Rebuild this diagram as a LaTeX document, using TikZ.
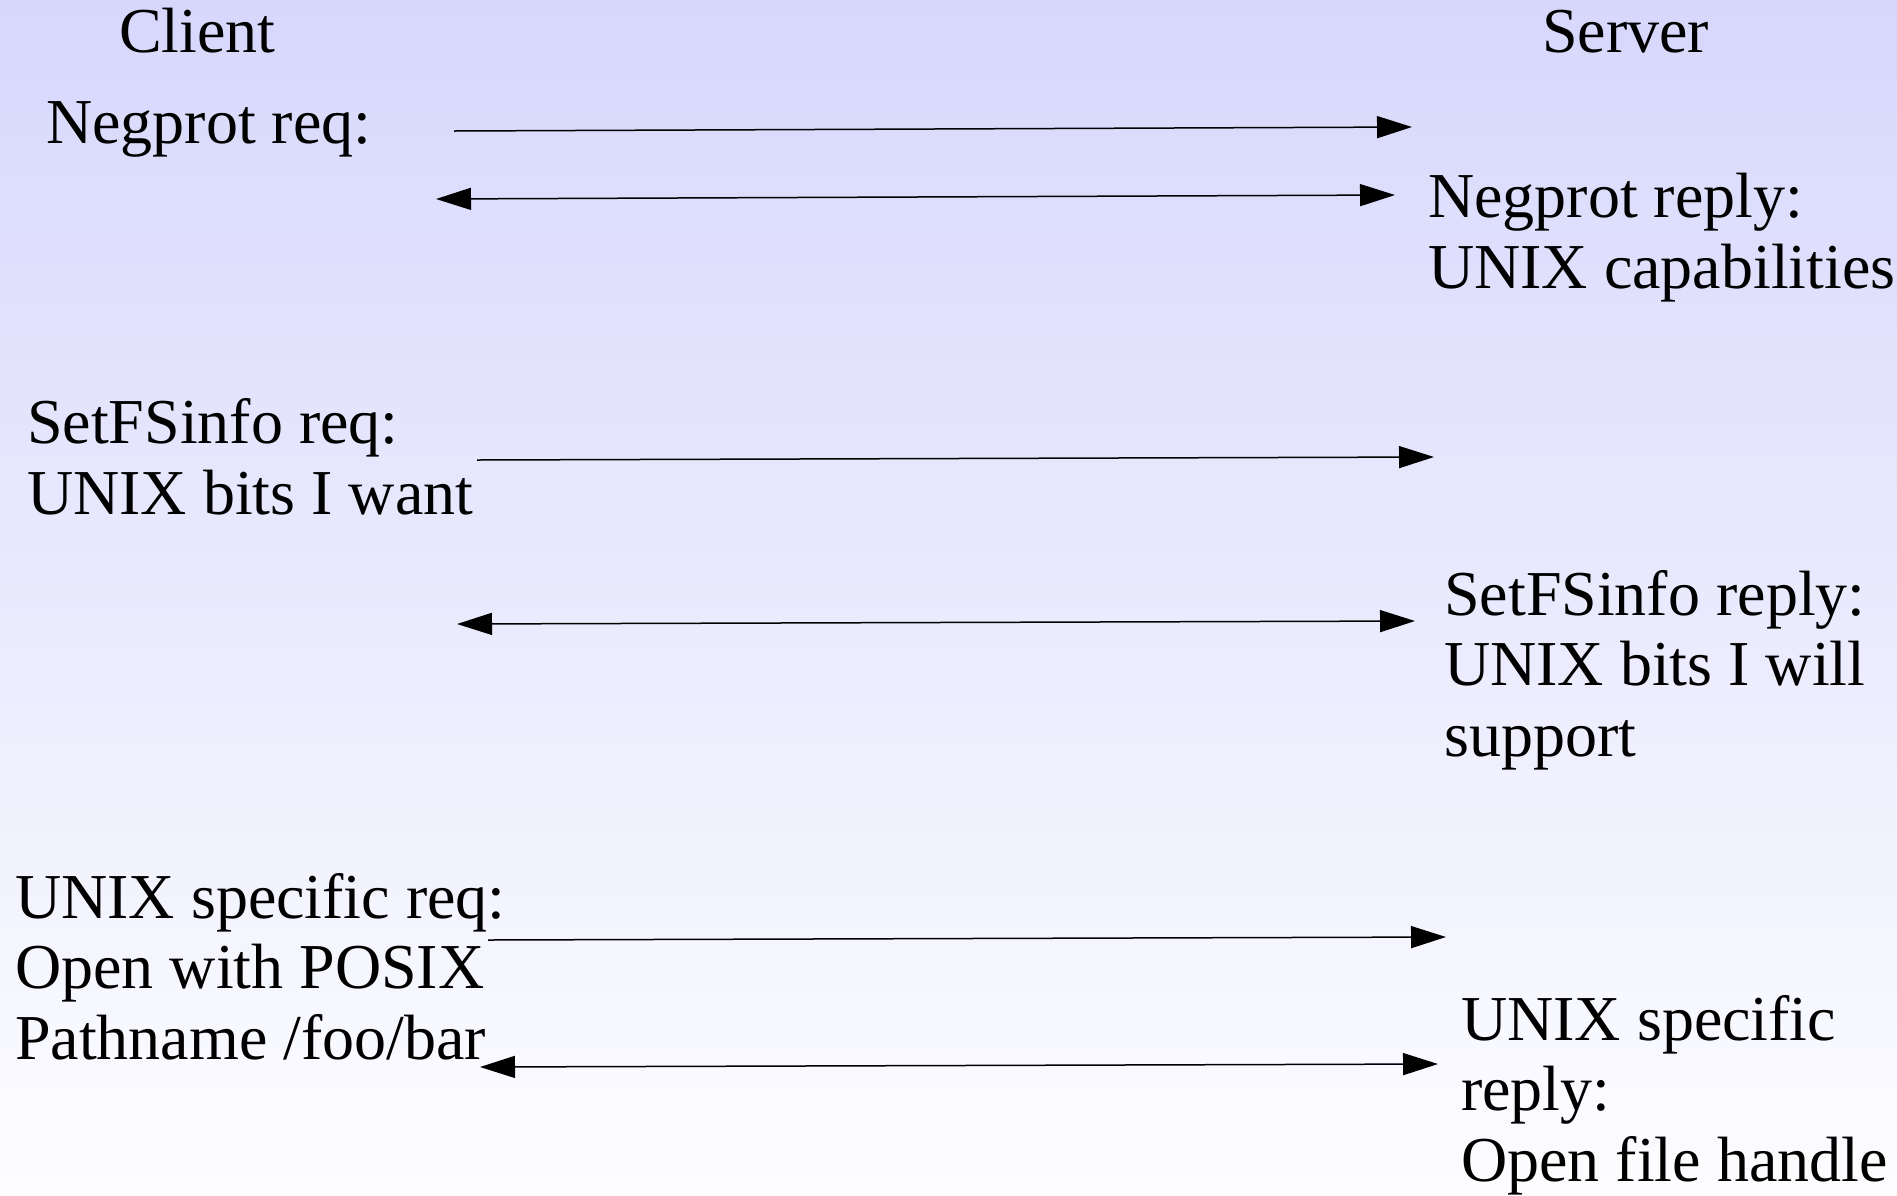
\documentclass[tikz,border=0pt]{standalone}
\usepackage{fontspec}
\setmainfont{Liberation Serif}
\usetikzlibrary{arrows.meta}
\definecolor{bgtop}{RGB}{215,215,252}
\definecolor{bgbottom}{RGB}{253,253,255}
\tikzstyle{msgtext} = [anchor=base west, inner sep=0pt, align=left, font=\fontsize{64}{70.5}\selectfont]
\tikzstyle{arrow} = [line width=1.5pt, -{Triangle[length=35pt,width=22pt]}]
\tikzstyle{twoway} = [line width=1.5pt, {Triangle[length=35pt,width=22pt]}-{Triangle[length=35pt,width=22pt]}]

\begin{document}
\begin{tikzpicture}[x=1pt,y=-1pt]
        \shade[top color=bgtop, bottom color=bgbottom] (0,0) rectangle (1897,1195);
        \useasboundingbox (0,0) rectangle (1897,1195);

        % multi-line texts sit on the baseline of their last line
        \node[msgtext] (client) at (119,52) {Client};
        \node[msgtext] (server) at (1542,52) {Server};

        \node[msgtext] (negreq) at (46,143) {Negprot req:};
        \node[msgtext] (negrep) at (1428,288) {Negprot reply:\\UNIX capabilities};

        \node[msgtext] (fsreq) at (27,514) {SetFSinfo req:\\UNIX bits I want};
        \node[msgtext] (fsrep) at (1444,756) {SetFSinfo reply:\\UNIX bits I will\\support};

        \node[msgtext] (uxreq) at (15,1059) {UNIX specific req:\\Open with POSIX\\Pathname /foo/bar};
        \node[msgtext] (uxrep) at (1461,1181) {UNIX specific\\reply:\\Open file handle};

        \coordinate (negreqL) at (454,131);
        \coordinate (negreqR) at (1412,127);
        \coordinate (negrepL) at (436,199);
        \coordinate (negrepR) at (1395,195);
        \coordinate (fsreqL) at (477,460);
        \coordinate (fsreqR) at (1434,457);
        \coordinate (fsrepL) at (457,624);
        \coordinate (fsrepR) at (1415,621);
        \coordinate (uxreqL) at (488,940);
        \coordinate (uxreqR) at (1446,937);
        \coordinate (uxrepL) at (480,1067);
        \coordinate (uxrepR) at (1438,1064);

        \draw[arrow] (negreqL) -- (negreqR);
        \draw[twoway] (negrepL) -- (negrepR);
        \draw[arrow] (fsreqL) -- (fsreqR);
        \draw[twoway] (fsrepL) -- (fsrepR);
        \draw[arrow] (uxreqL) -- (uxreqR);
        \draw[twoway] (uxrepL) -- (uxrepR);
\end{tikzpicture}
\end{document}
